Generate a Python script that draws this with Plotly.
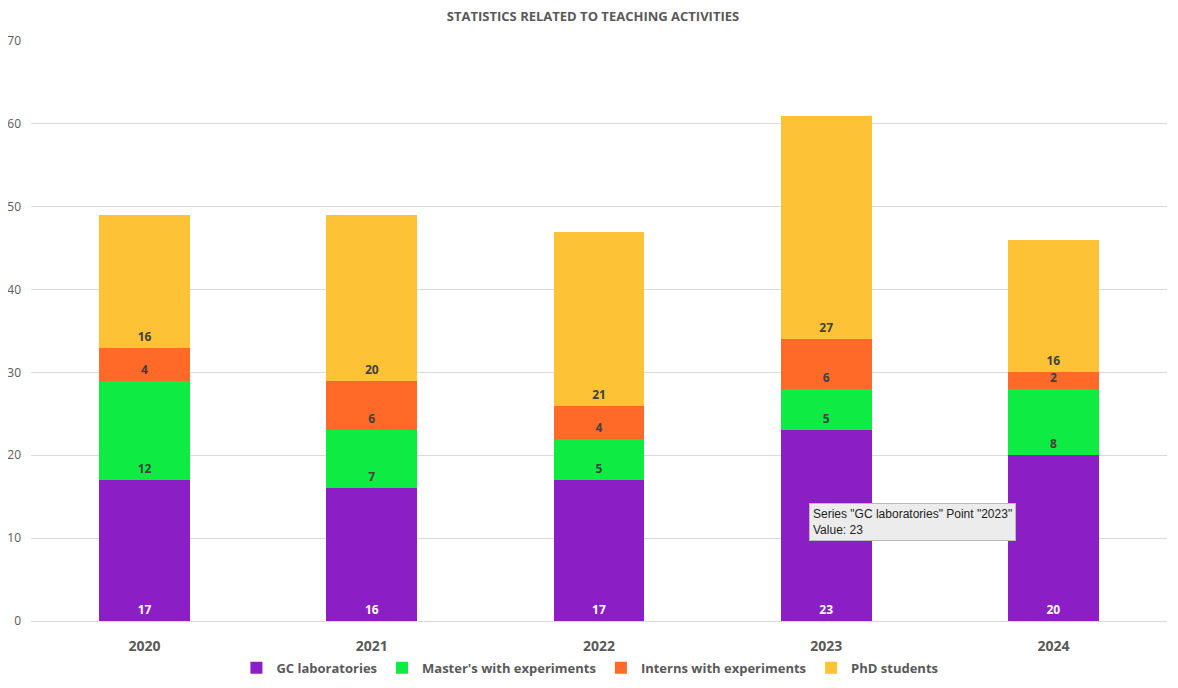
import plotly.graph_objects as go

years = ["2020", "2021", "2022", "2023", "2024"]
gc_labs = [17, 16, 17, 23, 20]
masters = [12, 7, 5, 5, 8]
interns = [4, 6, 4, 6, 2]
phd = [16, 20, 21, 27, 16]

series = [
    ("GC laboratories", gc_labs, "#8B1EC4", "white"),
    ("Master's with experiments", masters, "#0EEB42", "#404040"),
    ("Interns with experiments", interns, "#FF6A28", "#404040"),
    ("PhD students", phd, "#FDC236", "#404040"),
]

fig = go.Figure()
for name, vals, color, tcolor in series:
    fig.add_trace(go.Bar(
        name=name, x=years, y=vals,
        marker=dict(color=color, line=dict(width=0)),
        text=[str(v) for v in vals],
        textposition="inside",
        insidetextanchor="start",
        textangle=0,
        textfont=dict(family="Open Sans", size=12, color=tcolor, weight="bold"),
        hoverinfo="skip",
    ))

fig.add_annotation(
    x=0.6846, xref="paper", y=12.0, yref="y",
    xanchor="left", yanchor="middle", align="left",
    text='Series "GC laboratories" Point "2023"<br>Value: 23',
    showarrow=False,
    font=dict(family="Liberation Sans", size=12, color="#222222"),
    bgcolor="#ECECEC", bordercolor="#BBBBBB", borderwidth=1, borderpad=3,
)

fig.update_layout(
    width=1170, height=680,
    barmode="stack", bargap=0.6,
    uniformtext=dict(minsize=12, mode="show"),
    paper_bgcolor="white", plot_bgcolor="white",
    margin=dict(l=23, r=11, t=33, b=67, autoexpand=False),
    title=dict(text="STATISTICS RELATED TO TEACHING ACTIVITIES", x=0.5, xanchor="center",
               y=0.987, yanchor="middle",
               font=dict(family="Open Sans", size=13, color="#595959", weight="bold")),
    font=dict(family="Open Sans", color="#595959"),
    legend=dict(orientation="h", x=0.492, xanchor="center", y=-0.055, yanchor="top",
                font=dict(family="Open Sans", size=13, color="#595959", weight="bold"),
                itemwidth=30, traceorder="normal"),
    xaxis=dict(tickfont=dict(family="Open Sans", size=14, color="#595959", weight="bold"),
               showgrid=False, showline=True, linecolor="#D9D9D9", linewidth=1,
               ticks="", automargin=False, ticklabelstandoff=12),
    yaxis=dict(range=[0, 70], dtick=10, showgrid=True, gridcolor="#D9D9D9", gridwidth=1,
               zeroline=False, automargin=False,
               tickfont=dict(family="Open Sans", size=12, color="#595959"), ticks="",
               ticklabelstandoff=9),
)

fig.write_html("out.html")
